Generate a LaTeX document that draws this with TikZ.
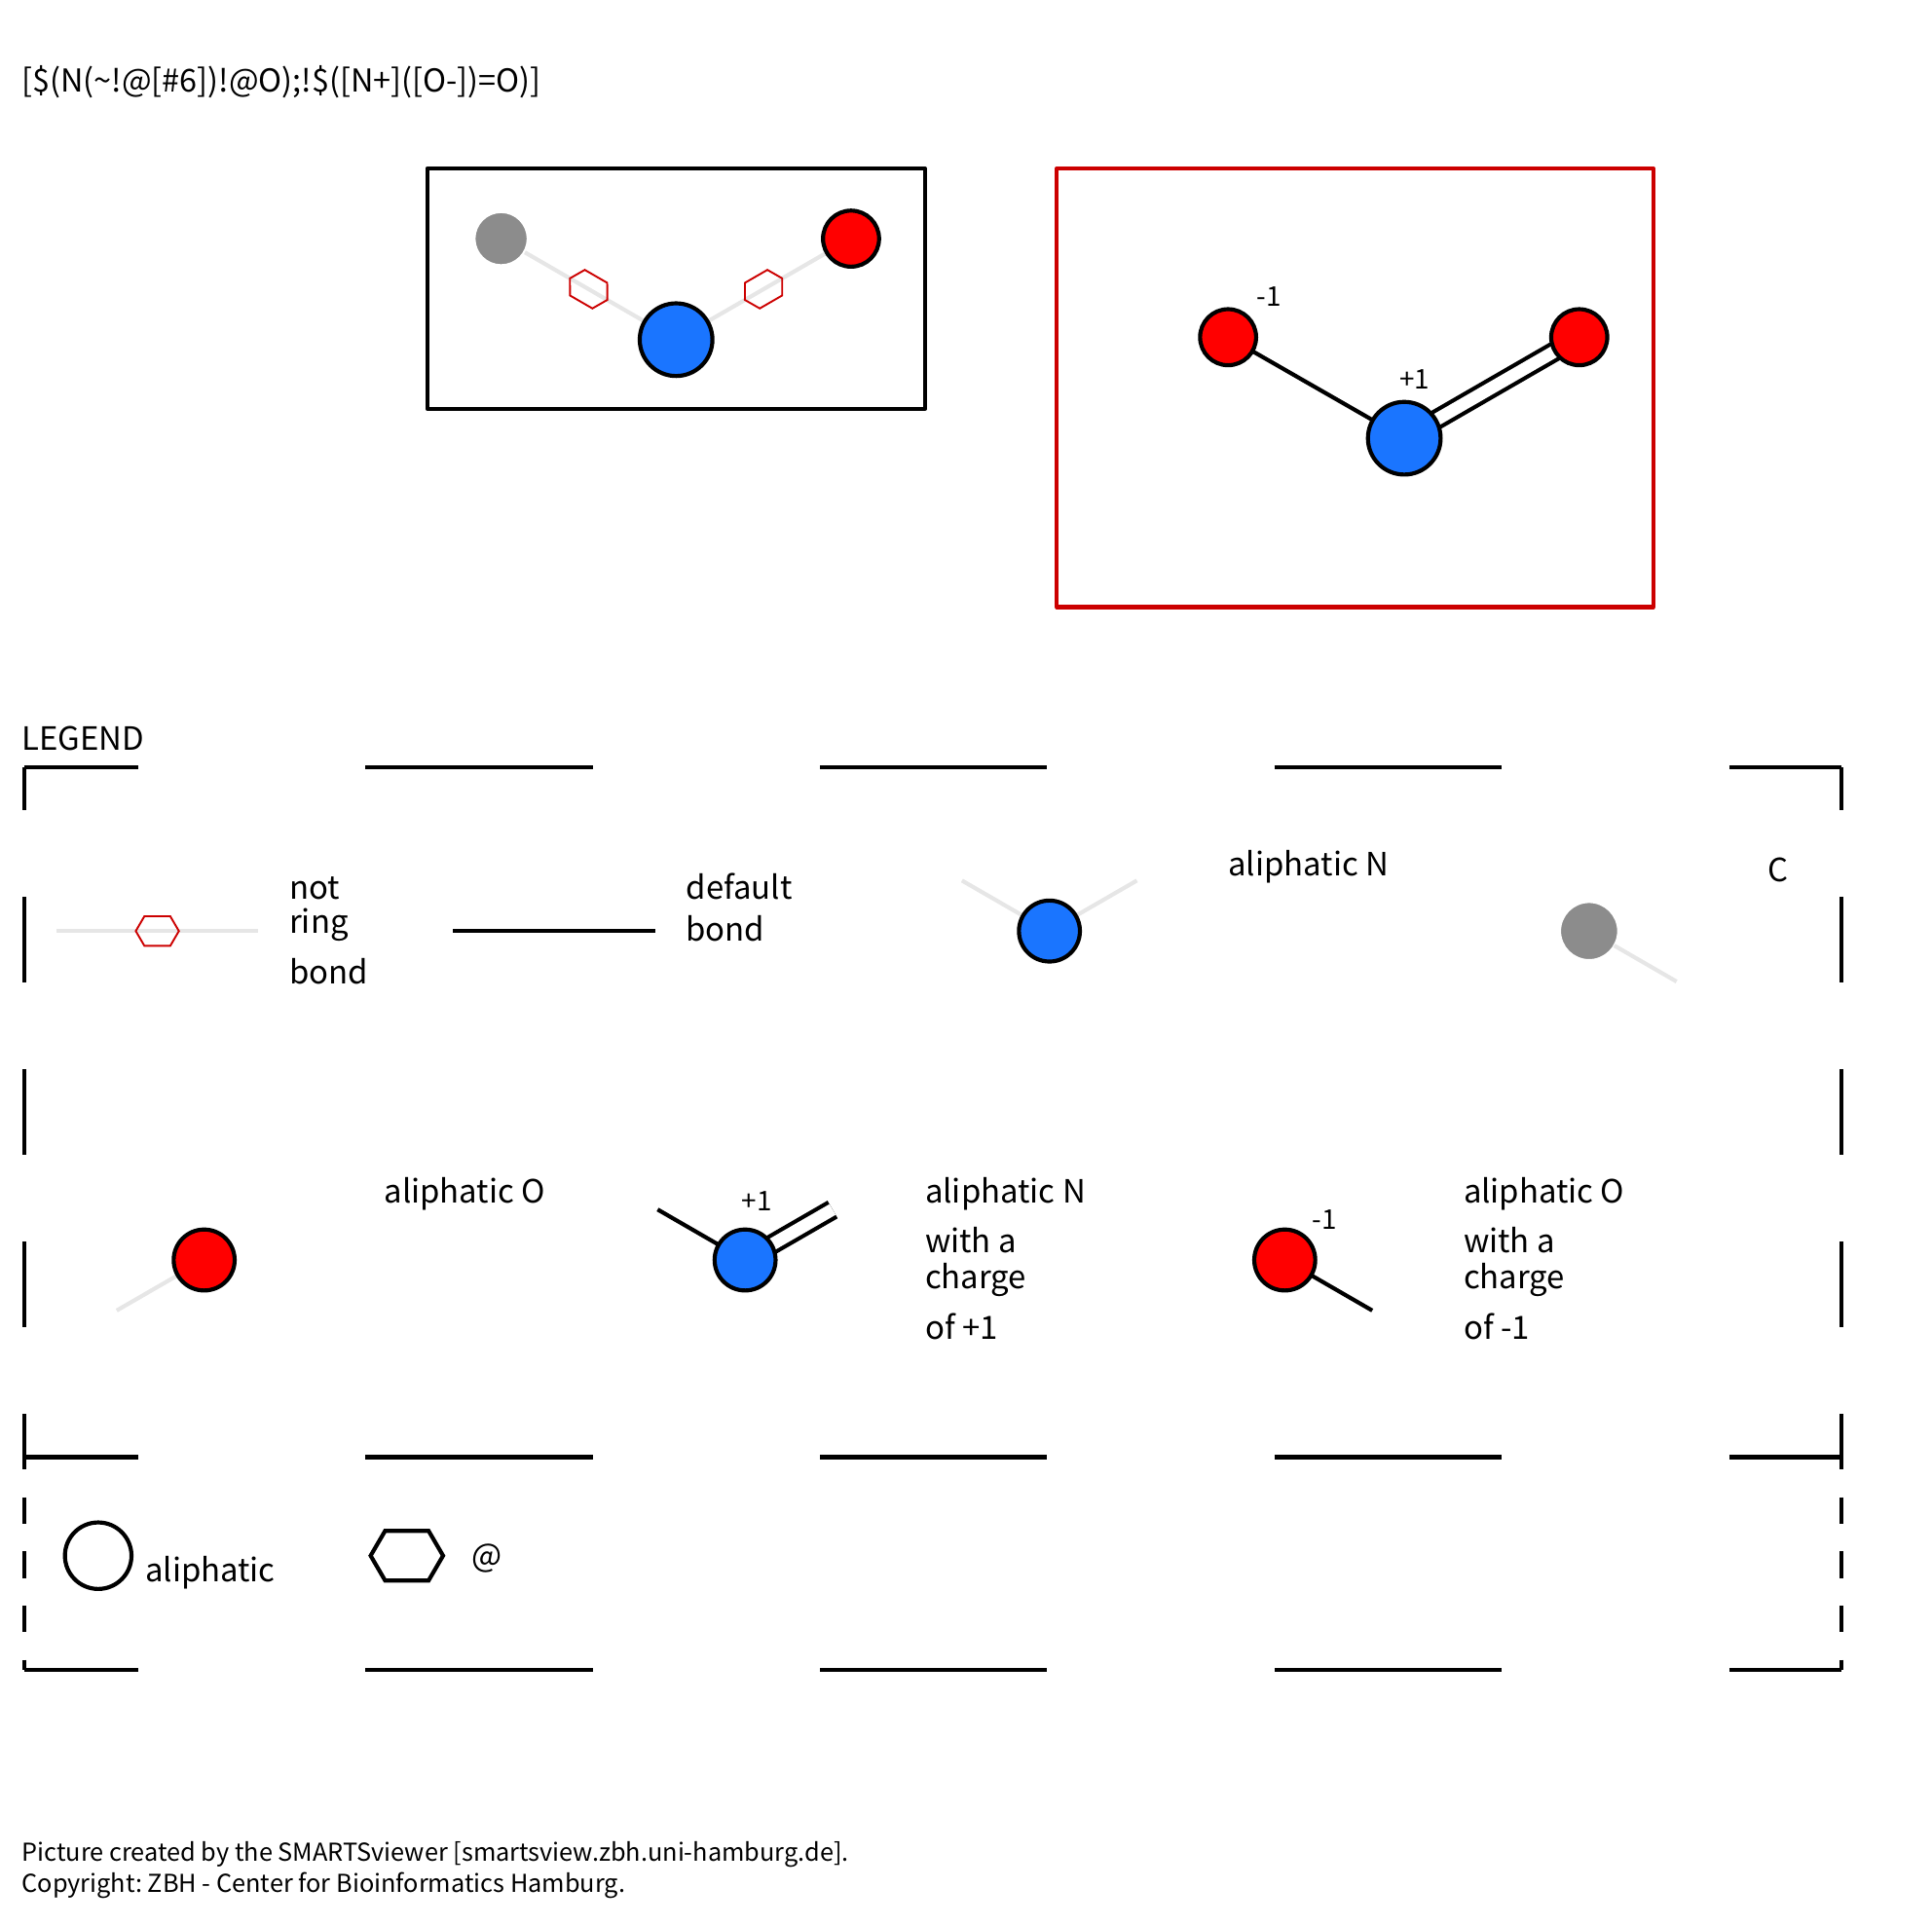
\documentclass[tikz,border=0pt]{standalone}
\usepackage{fontspec}
\setmainfont{Noto Sans CJK JP}
\usetikzlibrary{calc,backgrounds}
\definecolor{atomblue}{HTML}{1A75FF}
\definecolor{atomgray}{HTML}{8C8C8C}
\definecolor{ringred}{HTML}{CC0000}
\definecolor{softbond}{HTML}{E6E6E6}
\tikzset{
  txt/.style={inner sep=0pt,anchor=base west,font=\fontsize{26}{26}\selectfont},
  small/.style={inner sep=0pt,anchor=base west,font=\fontsize{22}{22}\selectfont},
  foot/.style={inner sep=0pt,anchor=base west,font=\fontsize{20}{20}\selectfont},
  atom/.style={circle,draw=black,line width=3.3pt,inner sep=0pt,outer sep=0pt},
  carbon/.style={circle,draw=white,fill=atomgray,line width=1.5pt,inner sep=0pt,outer sep=0pt},
  bond/.style={line width=3.3pt,black},
  dbond/.style={line width=3.3pt,black,double,double distance=10pt},
  softline/.style={line width=3.3pt,softbond},
  frame/.style={line width=3.3pt,line join=round},
  dashh/.style={line width=3.3pt,dash pattern=on 184.5pt off 184.5pt,dash phase=92.25pt},
  dashv/.style={line width=3.3pt,dash pattern=on 69.5pt off 70.5pt,dash phase=35pt},
  dashs/.style={line width=3.3pt,dash pattern=on 21.6pt off 22.4pt,dash phase=11.5pt},
  pics/ringmark/.style={code={
    \draw[#1] (-17.5,0) -- (-10.5,-12) -- (10.5,-12) -- (17.5,0) -- (10.5,12) -- (-10.5,12) -- cycle;
  }}
}
\begin{document}
\frenchspacing
\begin{tikzpicture}[x=1pt,y=-1pt]
  \useasboundingbox (0.3,-0.7) rectangle (1568.3,1561.7);
  % title
  \node[txt,font=\fontsize{25.6}{25.6}\selectfont] (smarts) at (18,74) {[\$(N(\textasciitilde!@[\#6])!@O);!\$([N+]([O-])=O)]};
  % first match box
  \draw[frame] (347,136) rectangle (751,331);
  \node[carbon,minimum size=43pt] (c1) at (407,193) {};
  \node[atom,fill=atomblue,minimum size=59pt] (n1) at (549,275) {};
  \node[atom,fill=red,minimum size=45.5pt] (o1) at (691,193) {};
  \begin{scope}[on background layer]
    \draw[softline] (c1) -- (n1);
    \draw[softline] (n1) -- (o1);
  \end{scope}
  \pic[rotate=-30] at ($(c1)!.5!(n1)$) {ringmark={ringred,line width=1.5pt}};
  \pic[rotate=30] at ($(n1)!.5!(o1)$) {ringmark={ringred,line width=1.5pt}};
  % second match box
  \draw[frame,ringred] (858,136) rectangle (1342,492);
  \node[atom,fill=red,minimum size=45.5pt] (o2) at (997,273) {};
  \node[atom,fill=atomblue,minimum size=59pt] (n2) at (1140,355) {};
  \node[atom,fill=red,minimum size=45.5pt] (o3) at (1282,273) {};
  \begin{scope}[on background layer]
    \draw[bond] (o2) -- (n2);
    \draw[dbond] (n2) -- (o3);
  \end{scope}
  \node[small] (qo2) at (1020,248) {-1};
  \node[small] (qn2) at (1136,315) {+1};
  % legend frames
  \node[txt] (legend) at (18,608) {LEGEND};
  \foreach \y in {622,1182,1355}
    \draw[dashh] (20,\y) -- (1495,\y);
  \foreach \x in {20,1495} {
    \draw[dashv] (\x,622) -- (\x,1182);
    \draw[dashs] (\x,1182) -- (\x,1355);
  }
  % not ring bond
  \coordinate (nrb1) at (46,755);
  \coordinate (nrb2) at (210,755);
  \draw[softline] (nrb1) -- (nrb2);
  \pic at ($(nrb1)!.5!(nrb2)$) {ringmark={ringred,line width=1.5pt}};
  \node[txt] (nrt1) at (235,729) {not};
  \node[txt] (nrt2) at (235,757) {ring};
  \node[txt] (nrt3) at (235,798) {bond};
  % default bond
  \coordinate (db1) at (368,755);
  \coordinate (db2) at (532,755);
  \draw[bond] (db1) -- (db2);
  \node[txt] (dbt1) at (557,729) {default};
  \node[txt] (dbt2) at (557,763) {bond};
  % aliphatic N
  \node[atom,fill=atomblue,minimum size=49.5pt] (ln) at (852,755) {};
  \coordinate (ln1) at (781,714);
  \coordinate (ln2) at (923,714);
  \begin{scope}[on background layer]
    \draw[softline] (ln) -- (ln1);
    \draw[softline] (ln) -- (ln2);
  \end{scope}
  \node[txt] (lnt) at (997,710) {aliphatic N};
  % C
  \node[carbon,minimum size=47pt] (lc) at (1290,755) {};
  \coordinate (lc1) at (1361,796);
  \draw[softline] (lc) -- (lc1);
  \node[txt] (lct) at (1435,715) {C};
  % aliphatic O
  \node[atom,fill=red,minimum size=49.5pt] (lo) at (166,1022) {};
  \coordinate (lo1) at (95,1063);
  \begin{scope}[on background layer]
    \draw[softline] (lo) -- (lo1);
  \end{scope}
  \node[txt] (lot) at (312,976) {aliphatic O};
  % N with charge
  \node[atom,fill=atomblue,minimum size=49.5pt] (lnp) at (605,1022) {};
  \coordinate (lnp1) at (534,981);
  \coordinate (lnp2) at (676,981);
  \begin{scope}[on background layer]
    \draw[bond] (lnp) -- (lnp1);
    \draw[dbond] (lnp) -- (lnp2);
  \end{scope}
  \node[small] (lnpq) at (602,982) {+1};
  \node[txt] (lnpt1) at (751,976) {aliphatic N};
  \node[txt] (lnpt2) at (751,1016) {with a};
  \node[txt] (lnpt3) at (751,1045) {charge};
  \node[txt] (lnpt4) at (751,1086) {of +1};
  % O with charge
  \node[atom,fill=red,minimum size=49.5pt] (lom) at (1043,1022) {};
  \coordinate (lom1) at (1114,1063);
  \begin{scope}[on background layer]
    \draw[bond] (lom) -- (lom1);
  \end{scope}
  \node[small] (lomq) at (1065,997) {-1};
  \node[txt] (lomt1) at (1188,976) {aliphatic O};
  \node[txt] (lomt2) at (1188,1016) {with a};
  \node[txt] (lomt3) at (1188,1045) {charge};
  \node[txt] (lomt4) at (1188,1086) {of -1};
  % symbol legend
  \node[atom,minimum size=54pt] (sym) at (80,1262) {};
  \node[txt] (symt) at (118,1283) {aliphatic};
  \pic[scale=1.68] at (330.5,1262) {ringmark={black,line width=3.3pt}};
  \node[txt] (hext) at (383,1271) {@};
  % footer
  \node[foot] (foot1) at (18,1510) {Picture created by the SMARTSviewer [smartsview.zbh.uni-hamburg.de].};
  \node[foot] (foot2) at (18,1535) {Copyright: ZBH - Center for Bioinformatics Hamburg.};
\end{tikzpicture}
\end{document}
